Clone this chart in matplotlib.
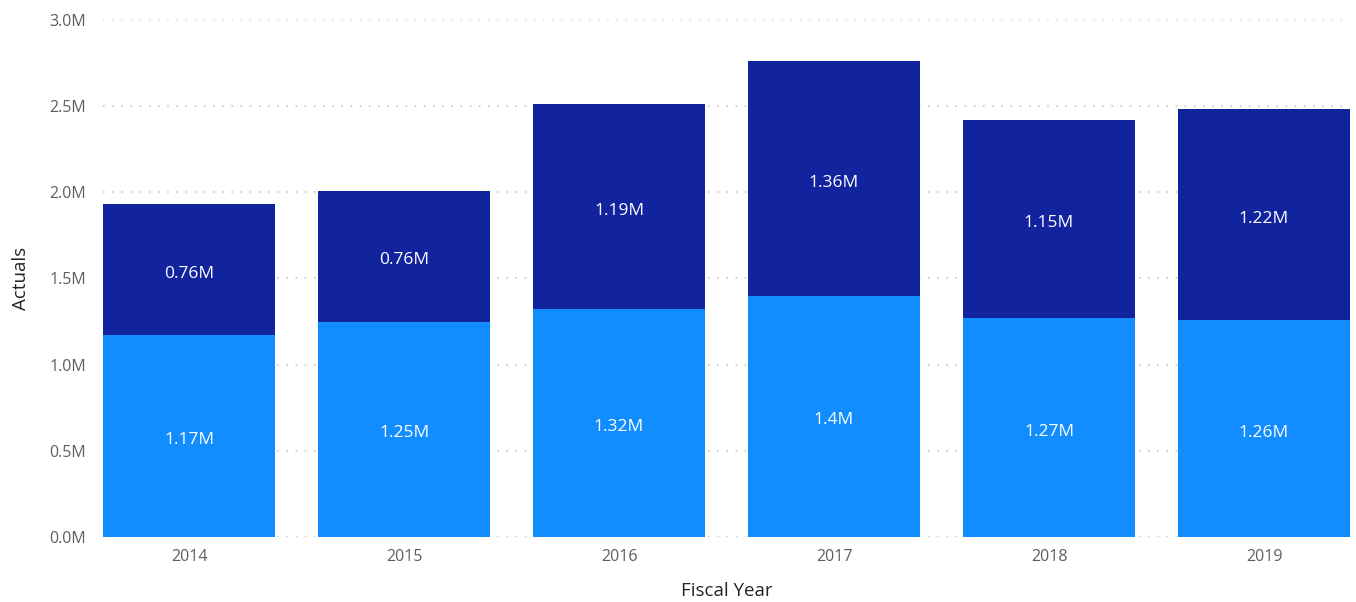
import matplotlib.pyplot as plt
from matplotlib.ticker import FuncFormatter

years = ['2014', '2015', '2016', '2017', '2018', '2019']
lower = [1.17, 1.25, 1.32, 1.40, 1.27, 1.26]   # millions
upper = [0.76, 0.76, 1.19, 1.36, 1.15, 1.22]
lower_labels = ['1.17M', '1.25M', '1.32M', '1.4M', '1.27M', '1.26M']
upper_labels = ['0.76M', '0.76M', '1.19M', '1.36M', '1.15M', '1.22M']

plt.rcParams['font.family'] = ['Open Sans', 'DejaVu Sans']

fig = plt.figure(figsize=(13.56, 6.02), dpi=100)
ax = fig.add_axes([0.076, 0.108, 0.9196, 0.859])

x = range(len(years))
b1 = ax.bar(x, lower, width=0.8, color='#118DFF', zorder=2)
b2 = ax.bar(x, upper, width=0.8, bottom=lower, color='#12239E', zorder=2)

ax.bar_label(b1, labels=lower_labels, label_type='center', color='white', fontsize=12.5, padding=-3)
ax.bar_label(b2, labels=upper_labels, label_type='center', color='white', fontsize=12.5, padding=-3)

ax.set_xlim(-0.4, 5.4)
ax.set_ylim(0, 3.0)
ax.set_yticks([0, 0.5, 1.0, 1.5, 2.0, 2.5, 3.0])
ax.yaxis.set_major_formatter(FuncFormatter(lambda v, p: f'{v:.1f}M'))
ax.set_xticks(list(x))
ax.set_xticklabels(years)

ax.grid(axis='y', linestyle=(0, (1, 4.5)), color='#C8C6C4', linewidth=1.2, zorder=0)
for s in ax.spines.values():
    s.set_visible(False)
ax.tick_params(length=0, colors='#605E5C', labelsize=11.5)
ax.tick_params(axis='y', pad=12)
ax.tick_params(axis='x', pad=9)

ax.set_xlabel('Fiscal Year', fontsize=13.5, color='#252423', labelpad=12)
ax.set_ylabel('Actuals', fontsize=13.5, color='#252423', labelpad=14)

fig.savefig('out.png', dpi=100)
